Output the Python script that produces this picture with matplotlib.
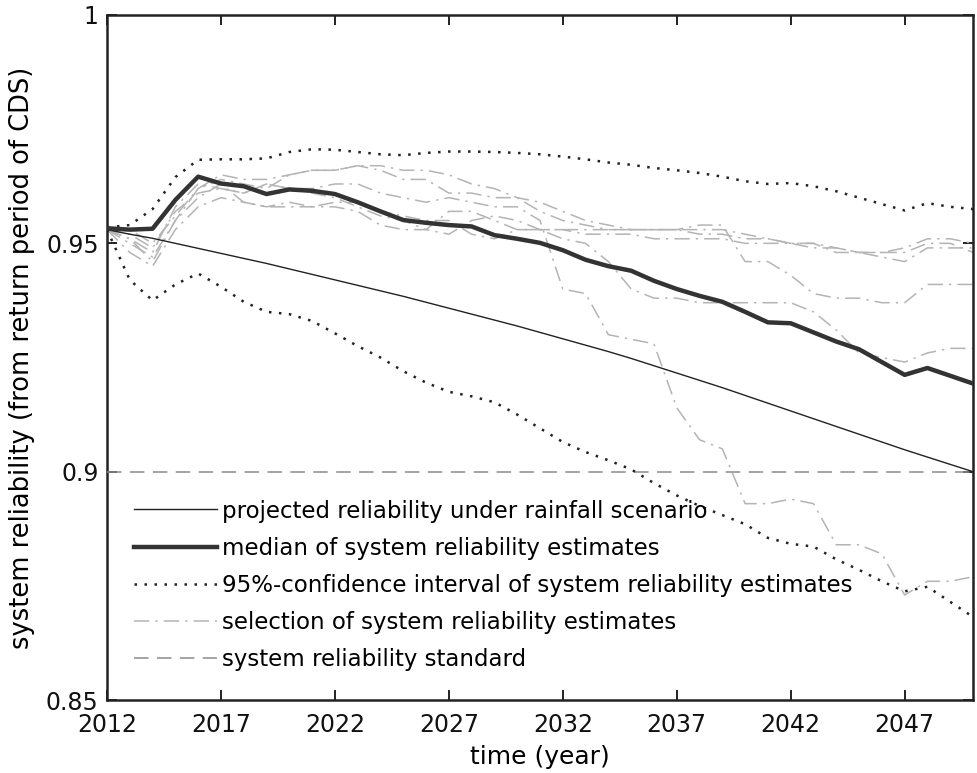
# system reliability projections, 2012-2050
import matplotlib
matplotlib.use('Agg')
from matplotlib import pyplot as plt

years = list(range(2012, 2051))

# projected reliability under the rainfall scenario
projected = [0.9530, 0.9520, 0.9511, 0.9500, 0.9489, 0.9478, 0.9467, 0.9456, 0.9444, 0.9432,
             0.9420, 0.9408, 0.9396, 0.9384, 0.9371, 0.9358, 0.9345, 0.9332, 0.9319, 0.9305,
             0.9291, 0.9277, 0.9263, 0.9248, 0.9232, 0.9216, 0.9200, 0.9184, 0.9167, 0.9150,
             0.9133, 0.9116, 0.9099, 0.9082, 0.9065, 0.9048, 0.9032, 0.9016, 0.9000]

# median of the estimates
median = [0.9533, 0.9530, 0.9532, 0.9595, 0.9646, 0.9631, 0.9625, 0.9608, 0.9618, 0.9615,
          0.9608, 0.9590, 0.9570, 0.9551, 0.9545, 0.9540, 0.9537, 0.9518, 0.9510, 0.9501,
          0.9485, 0.9464, 0.9450, 0.9440, 0.9418, 0.9400, 0.9385, 0.9372, 0.9350, 0.9327,
          0.9325, 0.9305, 0.9285, 0.9268, 0.9240, 0.9212, 0.9227, 0.9210, 0.9193]

# 95% confidence bounds
ci_upper = [0.9535, 0.9540, 0.9575, 0.9645, 0.9683, 0.9684, 0.9684, 0.9686, 0.9700, 0.9706,
            0.9705, 0.9700, 0.9695, 0.9693, 0.9698, 0.9701, 0.9701, 0.9700, 0.9698, 0.9695,
            0.9690, 0.9684, 0.9677, 0.9672, 0.9665, 0.9660, 0.9654, 0.9646, 0.9636, 0.9630,
            0.9632, 0.9625, 0.9614, 0.9600, 0.9586, 0.9572, 0.9588, 0.9580, 0.9575]
ci_lower = [0.9530, 0.9420, 0.9375, 0.9410, 0.9434, 0.9405, 0.9372, 0.9350, 0.9345, 0.9330,
            0.9303, 0.9275, 0.9250, 0.9220, 0.9195, 0.9175, 0.9165, 0.9152, 0.9125, 0.9095,
            0.9065, 0.9043, 0.9025, 0.9005, 0.8975, 0.8948, 0.8925, 0.8905, 0.8885, 0.8855,
            0.8842, 0.8836, 0.8808, 0.8785, 0.8760, 0.8738, 0.8748, 0.8715, 0.8682]

# a few single estimates
est_a = [0.953, 0.951, 0.948, 0.958, 0.963, 0.962, 0.961, 0.963, 0.962, 0.962,
         0.963, 0.963, 0.961, 0.960, 0.959, 0.960, 0.959, 0.958, 0.958, 0.955,
         0.940, 0.939, 0.930, 0.929, 0.928, 0.914, 0.907, 0.905, 0.893, 0.893,
         0.894, 0.893, 0.884, 0.884, 0.882, 0.873, 0.876, 0.876, 0.877]
est_b = [0.953, 0.950, 0.947, 0.955, 0.962, 0.964, 0.963, 0.962, 0.965, 0.966,
         0.966, 0.967, 0.966, 0.964, 0.964, 0.961, 0.961, 0.960, 0.960, 0.957,
         0.955, 0.954, 0.953, 0.953, 0.953, 0.953, 0.954, 0.954, 0.946, 0.946,
         0.943, 0.939, 0.938, 0.938, 0.937, 0.937, 0.941, 0.941, 0.941]
est_c = [0.953, 0.951, 0.946, 0.955, 0.960, 0.963, 0.959, 0.958, 0.959, 0.958,
         0.959, 0.959, 0.957, 0.956, 0.955, 0.955, 0.952, 0.951, 0.953, 0.953,
         0.951, 0.950, 0.946, 0.940, 0.938, 0.938, 0.937, 0.937, 0.937, 0.937,
         0.937, 0.935, 0.931, 0.926, 0.925, 0.924, 0.926, 0.927, 0.927]
est_d = [0.953, 0.952, 0.949, 0.957, 0.961, 0.962, 0.961, 0.963, 0.962, 0.961,
         0.960, 0.958, 0.956, 0.955, 0.953, 0.957, 0.957, 0.955, 0.953, 0.953,
         0.953, 0.953, 0.953, 0.953, 0.953, 0.953, 0.953, 0.953, 0.952, 0.951,
         0.950, 0.950, 0.949, 0.948, 0.948, 0.949, 0.951, 0.951, 0.950]
est_e = [0.953, 0.953, 0.950, 0.956, 0.962, 0.965, 0.964, 0.964, 0.965, 0.966,
         0.966, 0.967, 0.967, 0.966, 0.966, 0.965, 0.963, 0.962, 0.960, 0.959,
         0.957, 0.955, 0.954, 0.953, 0.953, 0.953, 0.952, 0.952, 0.951, 0.951,
         0.950, 0.950, 0.948, 0.948, 0.947, 0.946, 0.949, 0.949, 0.949]
est_f = [0.953, 0.948, 0.945, 0.953, 0.958, 0.960, 0.959, 0.958, 0.958, 0.958,
         0.958, 0.957, 0.954, 0.953, 0.953, 0.952, 0.955, 0.956, 0.955, 0.953,
         0.953, 0.952, 0.952, 0.952, 0.951, 0.951, 0.951, 0.951, 0.950, 0.950,
         0.950, 0.949, 0.949, 0.948, 0.948, 0.948, 0.950, 0.950, 0.948]
estimates = [est_a, est_b, est_c, est_d, est_e, est_f]

standard = 0.9
xticks = [2012, 2017, 2022, 2027, 2032, 2037, 2042, 2047]
yticks = [0.85, 0.9, 0.95, 1.0]
ytick_labels = ['0.85', '0.9', '0.95', '1']

narrow = ['Liberation Sans Narrow', 'DejaVu Sans']

fig = plt.figure(figsize=(9.78, 7.73), dpi=100)
ax = fig.add_axes([0.1094, 0.0944, 0.8855, 0.8862])

grey = '#b4b4b4'
for i, est in enumerate(estimates):
    ax.plot(years, est, color=grey, linewidth=1.1, linestyle=(0, (10, 4, 1.5, 4)),
            label='selection of system reliability estimates' if i == 0 else None, zorder=2)
ax.axhline(standard, color='#8c8c8c', linewidth=1.1, linestyle=(0, (9.5, 5.5)),
           label='system reliability standard', zorder=3)
ax.plot(years, projected, color='#222222', linewidth=1.0,
        label='projected reliability under rainfall scenario', zorder=4)
ax.plot(years, ci_upper, color='#222222', linewidth=1.8, linestyle=(0, (1, 3)),
        label='95%-confidence interval of system reliability estimates', zorder=4)
ax.plot(years, ci_lower, color='#222222', linewidth=1.8, linestyle=(0, (1, 3)), zorder=4)
ax.plot(years, median, color='#333333', linewidth=3.2,
        label='median of system reliability estimates', zorder=5)

ax.set_xlim(2012, 2050)
ax.set_ylim(0.85, 1.0)
ax.set_xticks(xticks)
ax.set_yticks(yticks)
ax.set_yticklabels(ytick_labels)
ax.tick_params(direction='in', length=7, width=1.3, top=True, right=True,
               labelsize=17, colors='#111111')
ax.tick_params(axis='x', pad=9)
ax.tick_params(axis='y', pad=6)
for lab in ax.get_xticklabels() + ax.get_yticklabels():
    lab.set_family(narrow)
for sp in ax.spines.values():
    sp.set_linewidth(1.8)
    sp.set_color('#222222')

ax.set_xlabel('time (year)', fontsize=18, family=narrow, labelpad=6)
ax.set_ylabel('system reliability (from return period of CDS)', fontsize=18.5,
              family=narrow, labelpad=8)

# legend in MATLAB order
handles, labels = ax.get_legend_handles_labels()
order = ['projected reliability under rainfall scenario',
         'median of system reliability estimates',
         '95%-confidence interval of system reliability estimates',
         'selection of system reliability estimates',
         'system reliability standard']
h = [handles[labels.index(o)] for o in order]
ax.legend(h, order, loc='upper left', bbox_to_anchor=(0.0315, 0.2927), frameon=False,
          handlelength=3.6, handletextpad=0.22, labelspacing=0.62,
          borderpad=0, borderaxespad=0, prop={'family': 'DejaVu Sans', 'size': 16.5})

fig.savefig('out.png', dpi=100)
